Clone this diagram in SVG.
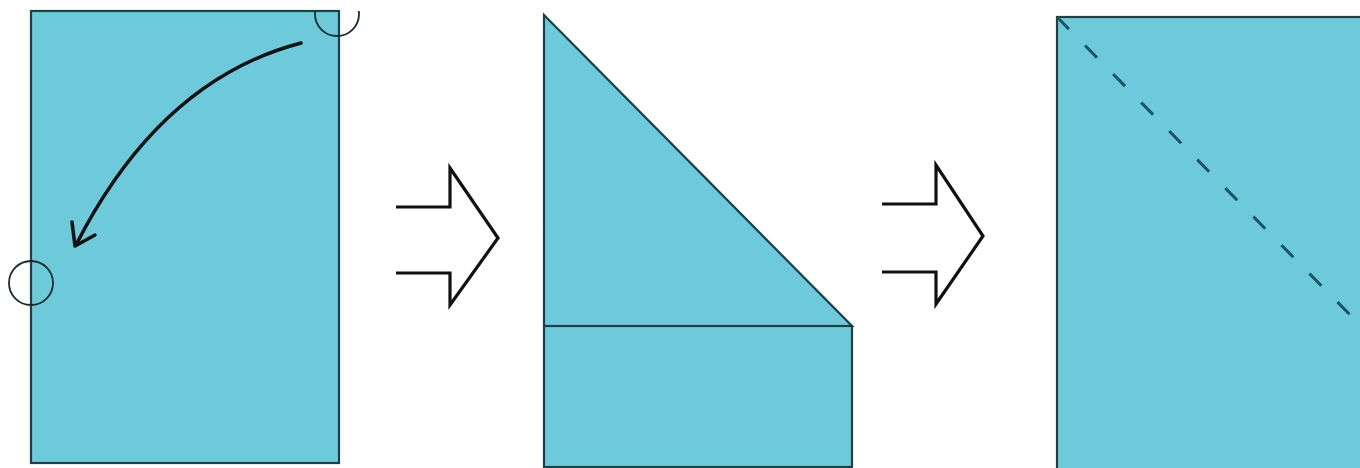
<svg xmlns="http://www.w3.org/2000/svg" width="1360" height="468" viewBox="0 0 1360 468">
<style>
.paper{fill:#6dcadb;stroke:#1d3f45;stroke-width:2.2}
.mark{fill:none;stroke:#1a2b2e;stroke-width:1.8}
.arrow{fill:none;stroke:#111;stroke-width:3.2;stroke-linejoin:miter}
.fold{fill:none;stroke:#1a5560;stroke-width:3;stroke-dasharray:17 23}
</style>
<rect width="1360" height="468" fill="#fff"/>
<defs>
<clipPath id="topclip"><rect x="0" y="11" width="1360" height="457"/></clipPath>
</defs>
<g id="step1">
<rect class="paper" x="31" y="11" width="308" height="452"/>
<circle class="mark" cx="337" cy="14" r="22" clip-path="url(#topclip)"/>
<circle class="mark" cx="31" cy="283" r="22"/>
<path d="M301,43 Q160,80 76,245" fill="none" stroke="#111" stroke-width="3.5" stroke-linecap="round"/>
<path d="M72,222 L75,246 L95,235" fill="none" stroke="#111" stroke-width="3.5" stroke-linecap="round" stroke-linejoin="round"/>
</g>
<g id="connectors">
<path class="arrow" d="M396,207 H450 V168 L498,238 L450,305 V273 H396"/>
<path class="arrow" d="M882,204 H936 V165 L983,236 L936,304 V272 H882"/>
</g>
<g id="step2">
<polygon class="paper" points="544,15 852,326 544,326"/>
<rect class="paper" x="544" y="326" width="308" height="141"/>
</g>
<g id="step3">
<rect class="paper" x="1057" y="17" width="320" height="470"/>
<line class="fold" x1="1057" y1="17" x2="1360" y2="325"/>
</g>
</svg>
